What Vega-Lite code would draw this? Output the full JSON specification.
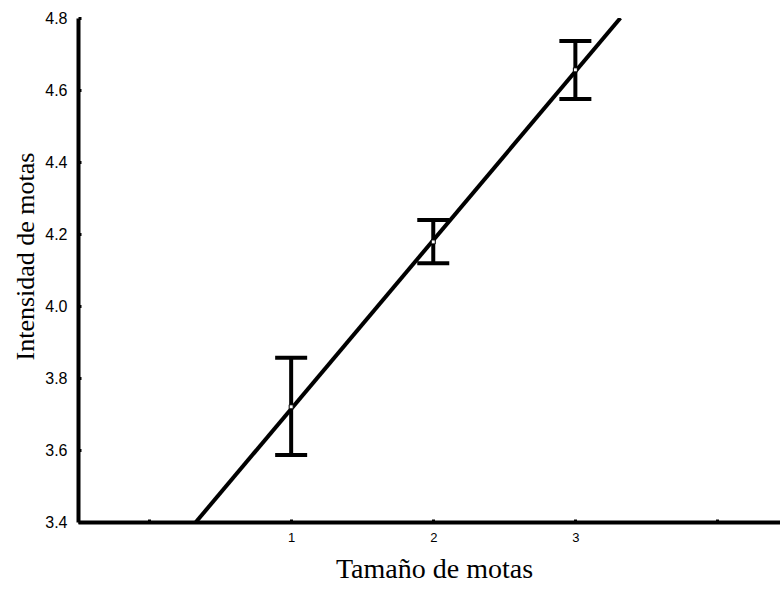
{
  "$schema": "https://vega.github.io/schema/vega-lite/v6.json",
  "autosize": "none",
  "width": 702,
  "height": 504,
  "padding": {"left": 78, "top": 18, "right": 0, "bottom": 67},
  "background": "white",
  "config": {"view": {"stroke": null}},
  "datasets": {
    "stats": [
      {"size": 1, "mean": 3.72, "low": 3.586, "high": 3.856},
      {"size": 2, "mean": 4.178, "low": 4.119, "high": 4.239},
      {"size": 3, "mean": 4.656, "low": 4.575, "high": 4.736}
    ],
    "fit": [
      {"size": 0.33, "value": 3.4},
      {"size": 3.317, "value": 4.8}
    ]
  },
  "encoding": {
    "x": {
      "type": "quantitative",
      "scale": {"domain": [-0.5, 4.44], "nice": false, "zero": false},
      "axis": {
        "title": "Tamaño de motas",
        "titleFont": "Liberation Serif",
        "titleFontSize": 28,
        "titleFontWeight": "normal",
        "titleColor": "black",
        "titleBaseline": "alphabetic",
        "titleY": 55,
        "titleX": 356,
        "titleAlign": "center",
        "values": [0, 1, 2, 3, 4],
        "labelExpr": "datum.value >= 1 && datum.value <= 3 ? datum.label : ''",
        "labelFont": "Liberation Sans",
        "labelFontSize": 13,
        "labelColor": "black",
        "labelPadding": 12,
        "grid": false,
        "domainColor": "black",
        "domainWidth": 4,
        "tickColor": "black",
        "tickSize": -3,
        "tickWidth": 3
      }
    },
    "y": {
      "type": "quantitative",
      "scale": {"domain": [3.4, 4.8], "nice": false, "zero": false},
      "axis": {
        "title": "Intensidad de motas",
        "titleFont": "Liberation Serif",
        "titleFontSize": 26,
        "titleFontWeight": "normal",
        "titleColor": "black",
        "titleBaseline": "alphabetic",
        "titleAngle": -90,
        "titleX": -45,
        "titleY": 238,
        "titleAlign": "center",
        "values": [3.4, 3.6, 3.8, 4.0, 4.2, 4.4, 4.6, 4.8],
        "format": ".1f",
        "labelFont": "Liberation Sans",
        "labelFontSize": 16,
        "labelColor": "black",
        "labelPadding": 14,
        "grid": false,
        "domainColor": "black",
        "domainWidth": 4,
        "tickColor": "black",
        "tickSize": -3,
        "tickWidth": 3
      }
    }
  },
  "layer": [
    {
      "data": {"name": "fit"},
      "mark": {"type": "line", "color": "black", "strokeWidth": 4, "clip": true},
      "encoding": {
        "x": {"field": "size"},
        "y": {"field": "value"}
      }
    },
    {
      "data": {"name": "stats"},
      "mark": {"type": "rule", "color": "black", "strokeWidth": 4},
      "encoding": {
        "x": {"field": "size"},
        "y": {"field": "low"},
        "y2": {"field": "high"}
      }
    },
    {
      "data": {"name": "stats"},
      "mark": {"type": "tick", "orient": "horizontal", "color": "black", "size": 32, "thickness": 4, "opacity": 1},
      "encoding": {
        "x": {"field": "size"},
        "y": {"field": "low"}
      }
    },
    {
      "data": {"name": "stats"},
      "mark": {"type": "tick", "orient": "horizontal", "color": "black", "size": 32, "thickness": 4, "opacity": 1},
      "encoding": {
        "x": {"field": "size"},
        "y": {"field": "high"}
      }
    },
    {
      "data": {"name": "stats"},
      "mark": {"type": "square", "size": 16, "filled": true, "fill": "white", "stroke": "black", "strokeWidth": 1, "opacity": 1},
      "encoding": {
        "x": {"field": "size"},
        "y": {"field": "mean"}
      }
    }
  ]
}
